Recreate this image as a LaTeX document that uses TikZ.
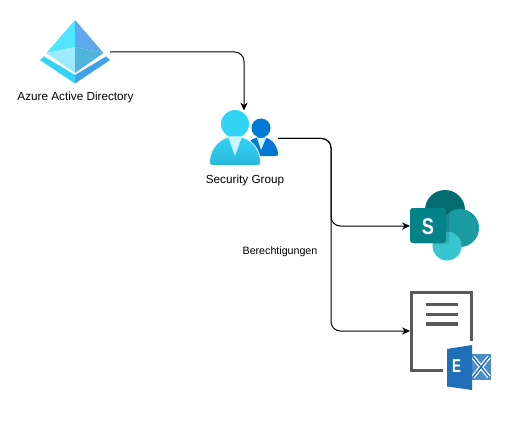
\documentclass[tikz,border=0pt]{standalone}
\usepackage{graphicx}
\usepackage{fontspec}
\setmainfont{Liberation Sans}
\usetikzlibrary{arrows.meta, positioning}
\definecolor{aadcyan}{HTML}{50E6FF}
\definecolor{aadblue}{HTML}{5EA8EE}
\definecolor{aadpale}{HTML}{9CEBFF}
\definecolor{aadmid}{HTML}{50B4DC}
\definecolor{aadlow}{HTML}{32D4F5}
\definecolor{aadlowr}{HTML}{3F9FE8}
\definecolor{groupcyan}{HTML}{32D4F5}
\definecolor{groupdeep}{HTML}{2AB8DC}
\definecolor{groupblue}{HTML}{0078D4}
\definecolor{collar}{HTML}{CDF4FF}
\definecolor{spdark}{HTML}{036C70}
\definecolor{spmid}{HTML}{1A9BA1}
\definecolor{splight}{HTML}{37C6D0}
\definecolor{spbox}{HTML}{038387}
\definecolor{docgray}{HTML}{595959}
\definecolor{exblue}{HTML}{1F6FBA}
\tikzset{
  iconbox/.style={inner sep=0pt, outer sep=0pt},
  caption/.style={font=\fontsize{8.8pt}{10pt}\selectfont, text=black, inner sep=0pt},
  smallcaption/.style={font=\fontsize{8pt}{9pt}\selectfont, text=black, inner sep=0pt},
  link/.style={draw=black, line width=0.75pt, rounded corners=7pt, -{Stealth[length=6pt,width=5.5pt]}},
  docline/.style={draw=docgray, line width=2.6pt}
}
\begin{document}
\begin{tikzpicture}[x=0.75pt,y=-0.75pt]
\useasboundingbox (0,0) rectangle (531,431);
\fill[white] (0,0) rectangle (531,431);
% Anchors of the four icons
\node[iconbox, minimum width=52.5pt, minimum height=48pt] (aad) at (75,52) {};
\node[iconbox, minimum width=51pt, minimum height=42pt] (group) at (244,138.5) {};
\node[iconbox, minimum width=52.5pt, minimum height=54pt] (sharepoint) at (445,226) {};
\node[iconbox, minimum width=46.5pt, minimum height=60pt] (exchange) at (441,331) {};
\coordinate (bus) at (331,182);
% Azure Active Directory
\fill[aadcyan] (75,20) -- (46.5,53) -- (75,47) -- cycle;
\fill[aadblue] (75,20) -- (103.5,53) -- (75,47) -- cycle;
\fill[aadpale] (46.5,53) -- (75,47) -- (75,73) -- cycle;
\fill[aadmid] (103.5,53) -- (75,47) -- (75,73) -- cycle;
\fill[aadlow] (44,56.5) -- (75,75) -- (75,83.5) -- (40,60) -- cycle;
\fill[aadlowr] (106,56.5) -- (75,75) -- (75,83.5) -- (110,60) -- cycle;
\node[caption] (aadlabel) at (75.5,97.5) {Azure Active Directory};
% Security Group
\fill[groupblue] (261,128) circle (9.5);
\fill[groupblue] (252,156) -- (276,156) .. controls (278,156) and (278,155) .. (278,153) .. controls (277,145) and (271,137) .. (261,137) .. controls (251,137) and (245,145) .. (244,153) -- cycle;
\fill[collar] (257,138) -- (266,138) -- (261,150) -- cycle;
\fill[top color=groupcyan, bottom color=groupdeep, draw=white, line width=0.6pt] (212,165.5) -- (258,165.5) .. controls (260,165.5) and (260.5,164) .. (260.5,162) .. controls (260,148) and (250,136.5) .. (235,136) .. controls (220,136.5) and (210,148) .. (209.5,162) .. controls (209.5,164) and (210,165.5) .. (212,165.5) -- cycle;
\fill[groupcyan] (235,124) circle (14);
\fill[collar] (228,136.5) -- (242,136.5) -- (235,156) -- cycle;
\node[caption] (grouplabel) at (245,180) {Security Group};
% SharePoint
\fill[spdark] (445,210) circle (20);
\fill[spmid] (460,228) circle (19);
\fill[splight] (447,246) circle (14.5);
\fill[black, opacity=0.12, rounded corners=2pt] (412,210) rectangle (449,244);
\fill[spbox, rounded corners=2pt] (410,208) rectangle (446,243);
\node[text=white, font=\fontsize{17pt}{17pt}\selectfont\bfseries, inner sep=0pt] (sletter) at (428,226.5) {\scalebox{0.8}[1]{S}};
% Exchange
\draw[draw=docgray, line width=2.2pt] (443,370.5) -- (411.5,370.5) -- (411.5,292.5) -- (471.5,292.5) -- (471.5,341);
\draw[docline] (425.5,304.5) -- (457.5,304.5);
\draw[docline] (425.5,314.5) -- (457.5,314.5);
\draw[docline] (425.5,324) -- (457.5,324);
\fill[exblue!80] (469,354) rectangle (491,380);
\draw[white, line width=3pt] (473,357) -- (489,377);
\draw[white, line width=3pt] (489,357) -- (473,377);
\draw[exblue, line width=1.1pt] (473,357) -- (489,377);
\draw[exblue, line width=1.1pt] (489,357) -- (473,377);
\fill[exblue] (447,349) -- (472,345) -- (472,390) -- (447,386.5) -- cycle;
\node[text=white, font=\fontsize{14pt}{14pt}\selectfont\bfseries, inner sep=0pt] (eletter) at (456.5,366.5) {\scalebox{0.72}[1]{E}};
% Connectors
\draw[link] (aad.east) -| (group.north);
\draw[link] (group.east) -| (bus) |- (sharepoint.west);
\draw[link] (group.east) -| (bus) |- (exchange.west);
\node[smallcaption] (rights) at (280,252) {Berechtigungen};
\end{tikzpicture}
\end{document}
